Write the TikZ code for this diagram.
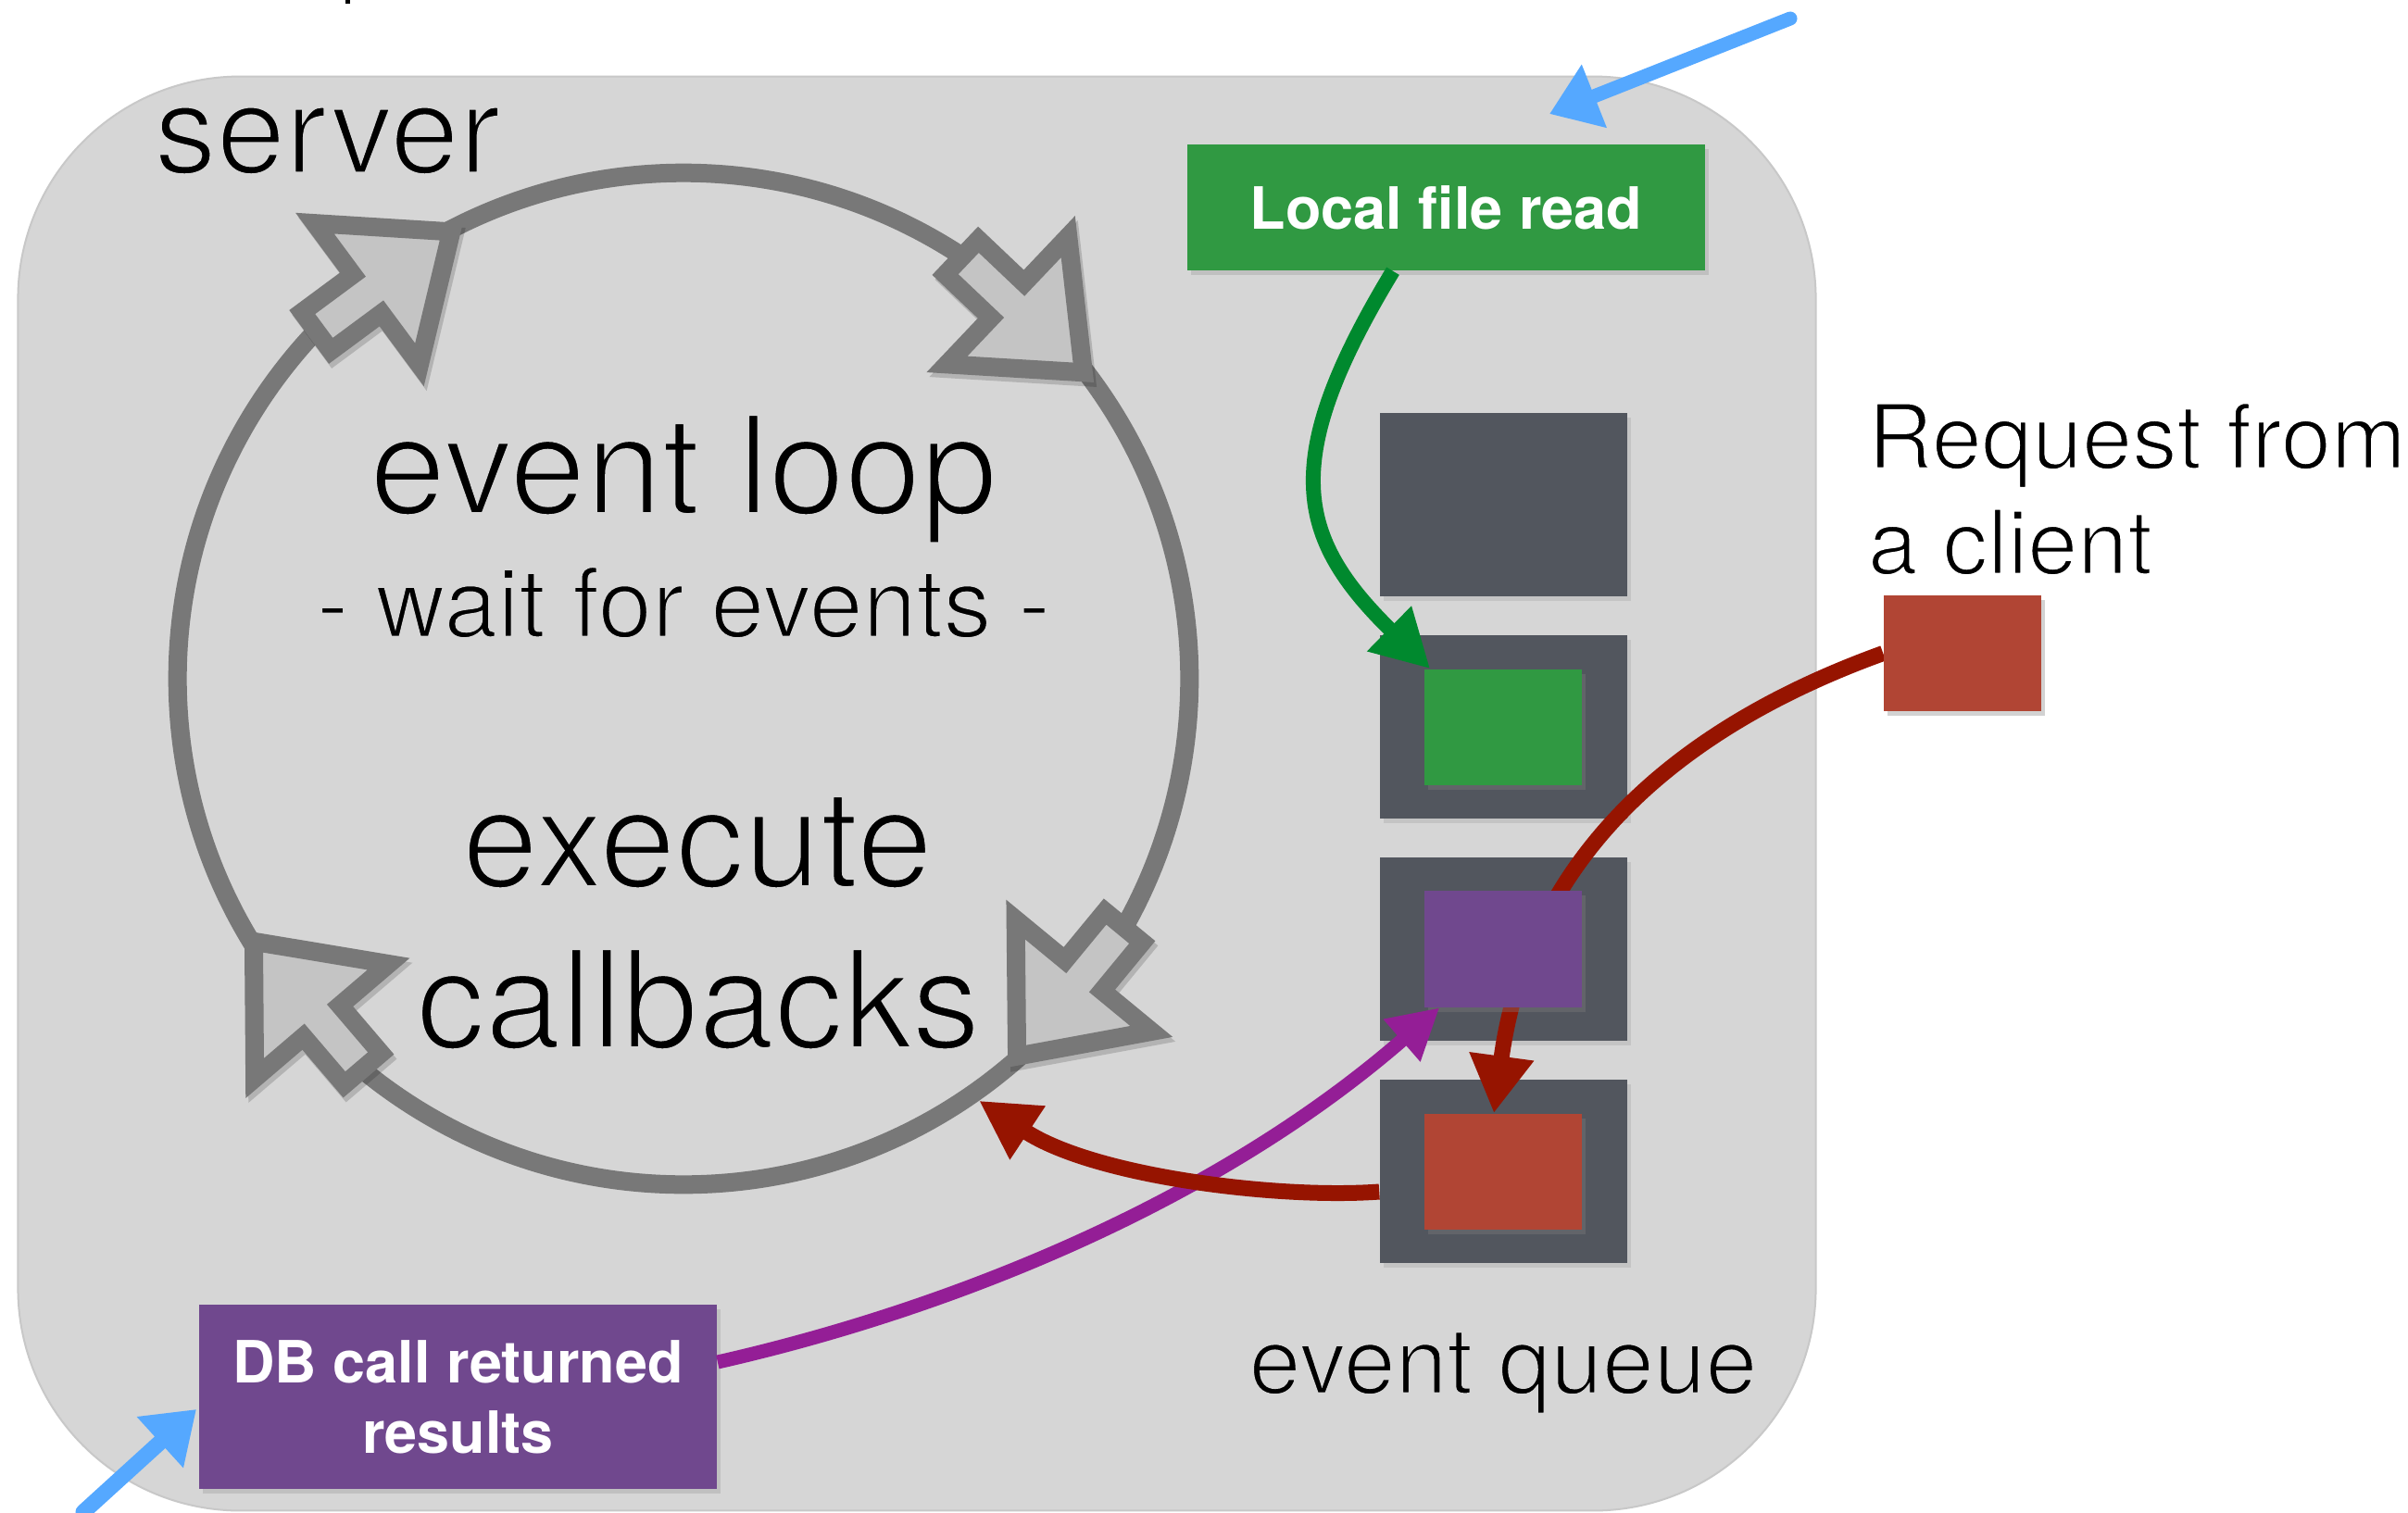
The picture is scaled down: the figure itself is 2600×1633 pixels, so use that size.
\documentclass[tikz,border=0pt]{standalone}
\usepackage{fontspec}
\setmainfont{TeX Gyre Heros}
\usetikzlibrary{arrows.meta,calc,shadows}

\definecolor{srv}{RGB}{214,214,214}
\definecolor{srvedge}{RGB}{200,200,200}
\definecolor{ringgray}{RGB}{120,120,120}
\definecolor{arrowfill}{RGB}{196,196,196}
\definecolor{qgray}{RGB}{82,86,94}
\definecolor{evgreen}{RGB}{48,153,66}
\definecolor{evpurple}{RGB}{112,72,142}
\definecolor{evred}{RGB}{177,69,52}
\definecolor{wiregreen}{RGB}{0,137,46}
\definecolor{wirered}{RGB}{150,20,0}
\definecolor{wirepurple}{RGB}{148,30,150}
\definecolor{pen}{RGB}{85,168,255}

\pgfdeclarelayer{bg}
\pgfdeclarelayer{wires}
\pgfsetlayers{bg,wires,main}

% light weight text: glyph edges are trimmed by stroking them in the backdrop colour
\newcommand\litetext[3]{\special{pdf:literal direct 2 Tr #1 w #2 RG}#3\special{pdf:literal direct 0 Tr 0 0 0 RG}}
\newcommand\ongray[2]{\litetext{#1}{0.839 0.839 0.839}{#2}}
\newcommand\onwhite[2]{\litetext{#1}{1 1 1}{#2}}

\tikzset{
  serverbox/.style={rectangle, fill=srv, draw=srvedge, line width=0.02cm,
    rounded corners=2.4cm, minimum width=19.4cm, minimum height=15.48cm, inner sep=0},
  ring/.style={circle, draw=ringgray, line width=0.2cm, minimum size=10.92cm, inner sep=0},
  looparrow/.style={draw=ringgray, fill=arrowfill, line width=0.2cm, line join=miter},
  loopshade/.style={draw=black, fill=black, opacity=0.16, line width=0.2cm, line join=miter},
  txt/.style={inner sep=0, anchor=base, text=black},
  bigtxt/.style={txt, font=\fontsize{42.1}{50}\selectfont},
  midtxt/.style={txt, font=\fontsize{29.6}{36}\selectfont},
  qbox/.style={rectangle, fill=qgray, minimum width=2.67cm, minimum height=1.98cm, inner sep=0,
    drop shadow={shadow xshift=0.04cm, shadow yshift=-0.05cm, opacity=0.2}},
  evbox/.style={rectangle, minimum width=1.70cm, minimum height=1.25cm, inner sep=0,
    drop shadow={shadow xshift=0.04cm, shadow yshift=-0.05cm, opacity=0.35}},
  srcbox/.style={rectangle, text=white, align=center, inner sep=0,
    minimum width=5.59cm, font=\fontsize{17.9}{21.6}\selectfont\bfseries,
    drop shadow={shadow xshift=0.04cm, shadow yshift=-0.05cm, opacity=0.25}},
  wire/.style={line cap=butt},
  penstroke/.style={draw=pen, line width=0.15cm, line cap=round},
}

% one block arrow sitting on the loop, tip at the given angle
\newcommand\loopArrow[1]{%
  \begin{scope}[shift={($(loop.center)+(#1:5.46cm)$)}, xshift=0.03cm, yshift=-0.05cm, rotate=#1-79.5]
    \draw[loopshade] (-14,0) -- (-127,95) -- (-127,26) -- (-195,26)
      -- (-195,-26) -- (-127,-26) -- (-127,-95) -- cycle;
  \end{scope}
  \begin{scope}[shift={($(loop.center)+(#1:5.46cm)$)}, rotate=#1-79.5]
    \draw[looparrow] (-14,0) -- (-127,95) -- (-127,26) -- (-195,26)
      -- (-195,-26) -- (-127,-26) -- (-127,-95) -- cycle;
  \end{scope}}

\begin{document}
\begin{tikzpicture}[x=0.01cm,y=-0.01cm]
\useasboundingbox (0,0) rectangle (2600,1633);

\begin{pgfonlayer}{bg}
  \fill[white] (0,0) rectangle (2600,1633);
  \fill[black] (373,0) rectangle (378,4);

  % server frame
  \node[serverbox] (server) at (990,857) {};
  \node[txt, anchor=base west, font=\fontsize{38.1}{46}\selectfont] (servername) at (166,187) {\ongray{0.99}{server}};

  % event loop ring with its four arrows
  \node[ring] (loop) at (738,733) {};
  \loopArrow{116}
  \loopArrow{36}
  \loopArrow{-50}
  \loopArrow{210}

  \node[bigtxt] (evl) at (738,555) {\ongray{1.09}{event loop}};
  \node[midtxt] (wait) at (738,688) {\ongray{0.77}{- wait for events -}};
  \node[bigtxt] (exe) at (753,958) {\ongray{1.09}{execute}};
  \node[bigtxt] (cb) at (754,1132) {\ongray{1.09}{callbacks}};

  % event queue slots
  \node[qbox] (q1) at (1623.5,545) {};
  \node[qbox] (q2) at (1623.5,785) {};
  \node[qbox] (q3) at (1623.5,1025) {};
  \node[qbox] (q4) at (1623.5,1265) {};
  \node[txt, font=\fontsize{28.5}{34}\selectfont] (eq) at (1623,1505) {\ongray{0.74}{event queue}};

  % incoming request
  \node[txt, anchor=base west, font=\fontsize{27.6}{33}\selectfont] (reqa) at (2016,506) {\onwhite{0.72}{Request from}};
  \node[txt, anchor=base west, font=\fontsize{27.6}{33}\selectfont] (reqb) at (2016,620) {\onwhite{0.72}{a client}};
\end{pgfonlayer}

% queued events
\node[evbox, fill=evgreen] (e2) at (1623,785.5) {};
\node[evbox, fill=evpurple] (e3) at (1623,1025) {};
\node[evbox, fill=evred] (e4) at (1623,1265.5) {};
\node[evbox, fill=evred] (req) at (2119,705.5) {};

% event sources
\node[srcbox, fill=evgreen, minimum height=1.36cm] (lfr) at (1561.5,224) {Local file read};
\node[srcbox, fill=evpurple, minimum height=1.99cm] (db) at (494.5,1508.5) {DB call returned\\results};

% request enters the queue, passing behind the purple slot
\begin{pgfonlayer}{wires}
  \draw[wire, draw=wirered, line width=0.17cm, -{Triangle[length=0.62cm,width=0.66cm]}]
    (req.west) .. controls +(-227,82) and +(37,-273) .. ([xshift=-0.1cm]e4.north);
\end{pgfonlayer}

% file read result queued
\draw[wire, draw=wiregreen, line width=0.16cm, -{Triangle[length=0.62cm,width=0.64cm]}]
  ([xshift=-0.575cm]lfr.south) .. controls +(-124,205) and +(-145,-142) .. ([xshift=0.07cm]e2.north west);

% DB result queued
\draw[wire, draw=wirepurple, line width=0.15cm, -{Triangle[length=0.54cm,width=0.57cm]}]
  ([yshift=0.375cm]db.east) .. controls +(226,-51) and +(-255,222) .. ([xshift=0.17cm]e3.south west);

% oldest event handed to the loop
\draw[wire, draw=wirered, line width=0.17cm, -{Triangle[length=0.63cm,width=0.65cm]}]
  ([yshift=-0.22cm]q4.west) .. controls +(-109,8) and +(124,82) .. (loop.-55);

% hand-drawn pointers
\coordinate (pentop) at (1933,20);
\coordinate (pentopend) at (1673,123);
\coordinate (penbot) at (90,1633);
\coordinate (penbotend) at (212,1522);
\draw[penstroke, -{Triangle[length=0.52cm,width=0.70cm]}] (pentop) -- (pentopend);
\draw[penstroke, line width=0.17cm, -{Triangle[length=0.53cm,width=0.71cm]}] (penbot) -- (penbotend);
\end{tikzpicture}
\end{document}
